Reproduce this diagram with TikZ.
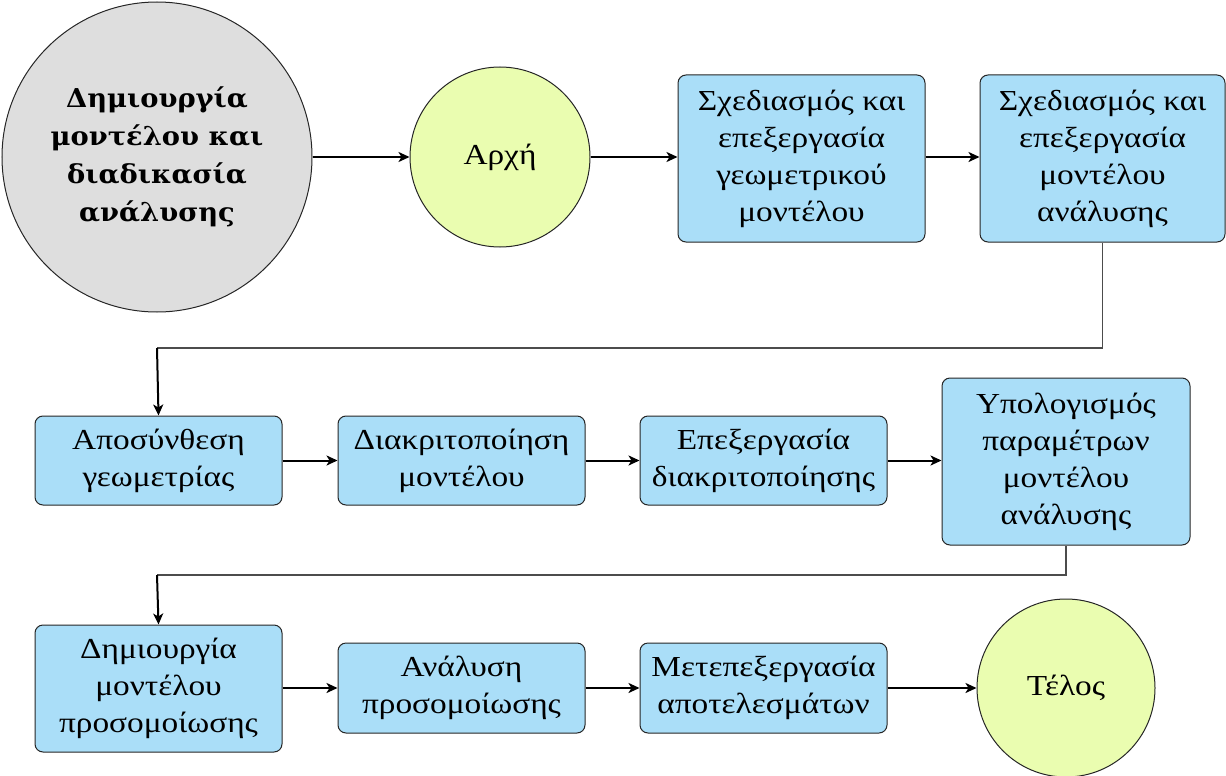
\documentclass[tikz,border=0pt]{standalone}
\usepackage{fontspec}
\setmainfont{Liberation Serif}[FakeStretch=1.15]
\newfontfamily\titlefont{DejaVu Serif}[FakeStretch=1.05]
\usetikzlibrary{arrows.meta,shapes.geometric}
\definecolor{boxblue}{RGB}{170,222,248}
\definecolor{startyel}{RGB}{234,253,176}
\definecolor{titlegray}{RGB}{222,222,222}
\tikzset{
  every node/.style={font=\fontsize{29}{37}\selectfont},
  stepbox/.style={draw=black!85, line width=1pt, fill=boxblue, rounded corners=8pt, align=center, inner sep=0pt, minimum width=247pt},
  terminal/.style={draw=black!85, line width=1pt, fill=startyel, circle, align=center, inner sep=0pt},
  flow/.style={line width=2pt, -{Stealth[length=11pt,width=10pt,inset=3pt]}},
  elbow/.style={line width=1.3pt, draw=black!70}
}
\begin{document}
\begin{tikzpicture}[x=1pt,y=-1pt]
\useasboundingbox (0,0) rectangle (1226,776);
\node[draw=black!85, line width=1pt, fill=titlegray, circle, minimum size=310pt, inner sep=0pt, align=center,
  font=\titlefont\bfseries\fontsize{26}{38}\selectfont] (g) at (157,157) {Δημιουργία\\μοντέλου και\\διαδικασία\\ανάλυσης};
\node[terminal, minimum size=180pt] (s) at (500,157) {Αρχή};
\node[stepbox, minimum height=167pt] (b1) at (801.5,158.5) {Σχεδιασμός και\\επεξεργασία\\γεωμετρικού\\μοντέλου};
\node[stepbox, minimum width=245pt, minimum height=167pt] (b2) at (1102.5,158.5) {Σχεδιασμός και\\επεξεργασία\\μοντέλου\\ανάλυσης};
\node[stepbox, minimum height=89pt] (c1) at (158.5,460.5) {Αποσύνθεση\\γεωμετρίας};
\node[stepbox, minimum height=89pt] (c2) at (461.5,460.5) {Διακριτοποίηση\\μοντέλου};
\node[stepbox, minimum height=89pt] (c3) at (763.5,460.5) {Επεξεργασία\\διακριτοποίησης};
\node[stepbox, minimum width=248pt, minimum height=167pt] (c4) at (1066,461.5) {Υπολογισμός\\παραμέτρων\\μοντέλου\\ανάλυσης};
\node[stepbox, minimum height=127pt] (d1) at (158.5,688.5) {Δημιουργία\\μοντέλου\\προσομοίωσης};
\node[stepbox, minimum height=90pt] (d2) at (461.5,688) {Ανάλυση\\προσομοίωσης};
\node[stepbox, minimum height=90pt] (d3) at (763.5,688) {Μετεπεξεργασία\\αποτελεσμάτων};
\node[terminal, minimum size=178pt] (e) at (1066,688) {Τέλος};
\coordinate (k1) at (157,348);
\coordinate (k2) at (157,575);
\draw[flow] (g) -- (s);
\draw[flow] (s.east) -- (s.east -| b1.west);
\draw[flow] (b1.east |- s.east) -- (b2.west |- s.east);
\draw[elbow] (b2.south) |- (k1);
\draw[flow] (k1) -- (c1.north);
\draw[flow] (c1) -- (c2);
\draw[flow] (c2) -- (c3);
\draw[flow] (c3.east) -- (c4.west |- c3.east);
\draw[elbow] (c4.south) |- (k2);
\draw[flow] (k2) -- (d1.north);
\draw[flow] (d1.east |- d2.west) -- (d2.west);
\draw[flow] (d2) -- (d3);
\draw[flow] (d3) -- (e);
\end{tikzpicture}
\end{document}
